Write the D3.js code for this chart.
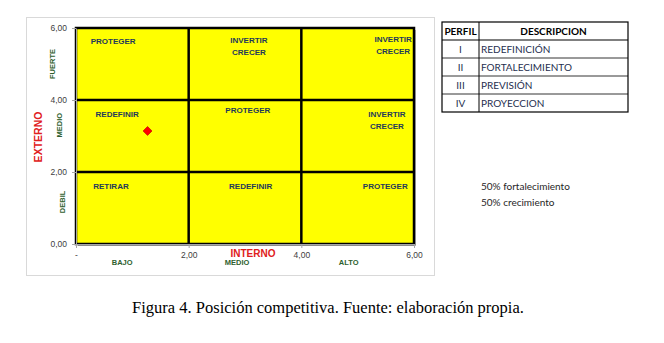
<!DOCTYPE html>
<html>
<head>
<meta charset="utf-8">
<script src="https://cdn.jsdelivr.net/npm/d3@7"></script>
<style>
  body { margin: 0; background: #fff; }
  svg { display: block; }
</style>
</head>
<body>
<div id="chart"></div>
<script>
// data
var point = [1.27, 3.14];
var xTicks = [0, 2, 4, 6];
var yTicks = [0, 2, 4, 6];
var cuts = [2, 4];
var cellLabels = [
  {x: 0.66, y: 5.64, lines: ["PROTEGER"]},
  {x: 3.07, y: 5.50, lines: ["INVERTIR", "CRECER"]},
  {x: 5.63, y: 5.53, lines: ["INVERTIR", "CRECER"]},
  {x: 0.73, y: 3.62, lines: ["REDEFINIR"]},
  {x: 3.05, y: 3.72, lines: ["PROTEGER"]},
  {x: 5.52, y: 3.44, lines: ["INVERTIR", "CRECER"]},
  {x: 0.62, y: 1.62, lines: ["RETIRAR"]},
  {x: 3.10, y: 1.62, lines: ["REDEFINIR"]},
  {x: 5.49, y: 1.62, lines: ["PROTEGER"]}
];
var xLevels = [["BAJO", 0.82], ["MEDIO", 2.86], ["ALTO", 4.84]];
var yLevels = [["FUERTE", 5.0], ["MEDIO", 3.3], ["DEBIL", 1.17]];
var perfiles = ["I", "II", "III", "IV"];
var descripciones = ["REDEFINICIÓN", "FORTALECIMIENTO", "PREVISIÓN", "PROYECCION"];
var notas = ["50% fortalecimiento", "50% crecimiento"];
var caption = "Figura 4. Posición competitiva. Fuente: elaboración propia.";

var W = 664, H = 343;
var svg = d3.select("#chart").append("svg")
  .attr("width", W).attr("height", H);

var locale = d3.formatLocale({decimal: ",", thousands: ".", grouping: [3], currency: ["", ""]});
var fmt = locale.format(".2f");

var x = d3.scaleLinear().domain([0, 6]).range([76, 414]);
var y = d3.scaleLinear().domain([0, 6]).range([244, 28]);

// outer chart frame
svg.append("rect")
  .attr("x", 26.5).attr("y", 17.5).attr("width", 408).attr("height", 258)
  .attr("fill", "#fff").attr("stroke", "#d9d9d9").attr("stroke-width", 1);

// plot area with a little shadow
svg.append("rect")
  .attr("x", x(0) + 2).attr("y", y(6) + 2)
  .attr("width", x(6) - x(0)).attr("height", y(0) - y(6))
  .attr("fill", "#8c8c8c").attr("opacity", 0.6);
svg.append("rect")
  .attr("x", x(0)).attr("y", y(6))
  .attr("width", x(6) - x(0)).attr("height", y(0) - y(6))
  .attr("fill", "#ffff00").attr("stroke", "#000").attr("stroke-width", 2.5);

var grid = svg.append("g");
cuts.forEach(function(c) {
  grid.append("line").attr("x1", x(c)).attr("x2", x(c)).attr("y1", y(0)).attr("y2", y(6))
    .attr("stroke", "#000").attr("stroke-width", 2.5);
  grid.append("line").attr("x1", x(0)).attr("x2", x(6)).attr("y1", y(c)).attr("y2", y(c))
    .attr("stroke", "#000").attr("stroke-width", 2.5);
});

// axes
var yAxis = svg.append("g")
  .attr("transform", "translate(" + x(0) + ",0)")
  .call(d3.axisLeft(y).tickValues(yTicks).tickFormat(fmt).tickSize(4).tickSizeOuter(0));
var xAxis = svg.append("g")
  .attr("transform", "translate(0," + y(0) + ")")
  .call(d3.axisBottom(x).tickValues(xTicks).tickSize(4).tickSizeOuter(0)
    .tickFormat(function(v) { return v === 0 ? "-" : fmt(v); }));
[xAxis, yAxis].forEach(function(a) {
  a.select(".domain").attr("stroke", "#a6a6a6");
  a.selectAll(".tick line").attr("stroke", "#a6a6a6");
  a.selectAll(".tick text").attr("fill", "#404040")
    .style("font-family", "Liberation Sans, Arial, sans-serif").style("font-size", "8.5px");
});
yAxis.selectAll(".tick text").attr("x", -9);
xAxis.selectAll(".tick text").attr("y", 8);

// cell labels
var labelFont = "Liberation Sans, Arial, sans-serif";
cellLabels.forEach(function(d) {
  var t = svg.append("text")
    .attr("x", x(d.x)).attr("y", y(d.y))
    .attr("text-anchor", "middle")
    .attr("fill", "#1f3a5a")
    .style("font-family", labelFont).style("font-weight", "bold").style("font-size", "8px");
  var off = -(d.lines.length - 1) * 6;
  d.lines.forEach(function(l, i) {
    t.append("tspan").attr("x", x(d.x)).attr("y", y(d.y) + off + i * 12 + 3).text(l);
  });
});

// point
svg.append("path")
  .attr("d", d3.symbol(d3.symbolSquare, 40))
  .attr("transform", "translate(" + x(point[0]) + "," + y(point[1]) + ") rotate(45)")
  .attr("fill", "#ff0000").attr("stroke", "#c00000").attr("stroke-width", 0.6);

// level labels
xLevels.forEach(function(d) {
  svg.append("text").attr("x", x(d[1])).attr("y", 265)
    .attr("text-anchor", "middle").attr("fill", "#2f5f2f")
    .style("font-family", labelFont).style("font-weight", "bold").style("font-size", "7.5px")
    .text(d[0]);
});
var yLevelX = {FUERTE: 55, MEDIO: 62, DEBIL: 65};
yLevels.forEach(function(d) {
  var cx = yLevelX[d[0]], cy = y(d[1]);
  svg.append("text")
    .attr("transform", "translate(" + cx + "," + cy + ") rotate(-90)")
    .attr("text-anchor", "middle").attr("fill", "#2f5f2f")
    .style("font-family", labelFont).style("font-weight", "bold").style("font-size", "7.5px")
    .text(d[0]);
});

// axis titles
svg.append("text").attr("x", 253).attr("y", 257)
  .attr("text-anchor", "middle").attr("fill", "#e02020")
  .style("font-family", labelFont).style("font-weight", "bold").style("font-size", "10px")
  .text("INTERNO");
svg.append("text")
  .attr("transform", "translate(42,137) rotate(-90)")
  .attr("text-anchor", "middle").attr("fill", "#e02020")
  .style("font-family", labelFont).style("font-weight", "bold").style("font-size", "10.5px")
  .text("EXTERNO");

// table
var tableFont = "Lato, 'Open Sans', sans-serif";
var tx0 = 442, tx1 = 479, tx2 = 628, ty0 = 22, rowH = 18;
var nRows = perfiles.length + 1;
var table = svg.append("g");
table.append("rect").attr("x", tx0).attr("y", ty0)
  .attr("width", tx2 - tx0).attr("height", rowH * nRows)
  .attr("fill", "#fff").attr("stroke", "#000").attr("stroke-width", 1.2);
table.append("line").attr("x1", tx1).attr("x2", tx1).attr("y1", ty0).attr("y2", ty0 + rowH * nRows)
  .attr("stroke", "#000").attr("stroke-width", 1);
d3.range(1, nRows).forEach(function(i) {
  table.append("line").attr("x1", tx0).attr("x2", tx2)
    .attr("y1", ty0 + rowH * i).attr("y2", ty0 + rowH * i)
    .attr("stroke", "#000").attr("stroke-width", i === 1 ? 1.2 : 0.8);
});
table.append("text").attr("x", (tx0 + tx1) / 2).attr("y", ty0 + 13)
  .attr("text-anchor", "middle").attr("fill", "#000")
  .style("font-family", tableFont).style("font-weight", "bold").style("font-size", "10px")
  .text("PERFIL");
table.append("text").attr("x", (tx1 + tx2) / 2).attr("y", ty0 + 13)
  .attr("text-anchor", "middle").attr("fill", "#000")
  .style("font-family", tableFont).style("font-weight", "bold").style("font-size", "10px")
  .text("DESCRIPCION");
perfiles.forEach(function(p, i) {
  var yy = ty0 + rowH * (i + 1) + 13;
  table.append("text").attr("x", (tx0 + tx1) / 2).attr("y", yy)
    .attr("text-anchor", "middle").attr("fill", "#1f2f4f")
    .style("font-family", tableFont).style("font-size", "10px").text(p);
  table.append("text").attr("x", tx1 + 2).attr("y", yy)
    .attr("fill", "#1f2f4f")
    .style("font-family", tableFont).style("font-size", "10px").text(descripciones[i]);
});

// notes
notas.forEach(function(n, i) {
  svg.append("text").attr("x", 481).attr("y", 190 + i * 16)
    .attr("fill", "#262626")
    .style("font-family", tableFont).style("font-size", "10px").text(n);
});

// caption
svg.append("text").attr("x", 328).attr("y", 313)
  .attr("text-anchor", "middle").attr("fill", "#000")
  .style("font-family", "'Liberation Serif', 'Times New Roman', serif").style("font-size", "16.5px")
  .text(caption);
</script>
</body>
</html>
